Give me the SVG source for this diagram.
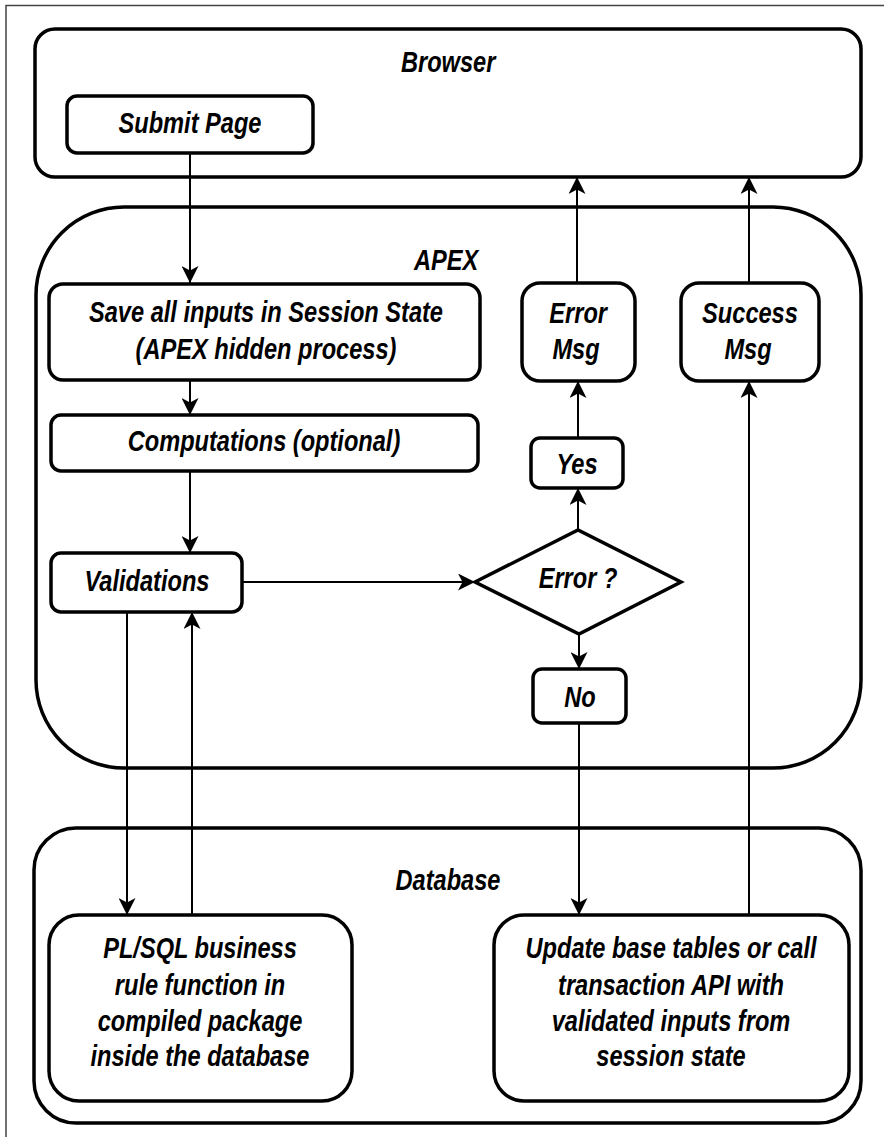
<svg xmlns="http://www.w3.org/2000/svg" width="884" height="1137" viewBox="0 0 884 1137">
  <style>
    .lane { fill: #ffffff; stroke: #000000; stroke-width: 3.5; }
    .box { fill: #ffffff; stroke: #000000; stroke-width: 3.5; }
    .edge { fill: none; stroke: #000000; stroke-width: 2; marker-end: url(#arrow); }
    .lbl { font-family: "Liberation Sans", Arial, sans-serif; font-weight: bold; font-style: italic; font-size: 29.5px; fill: #000000; text-anchor: middle;
           transform-box: fill-box; transform-origin: center; transform: scaleX(0.8); }
  </style>
  <defs>
    <marker id="arrow" viewBox="0 0 17 17" refX="17" refY="8.5" markerWidth="17" markerHeight="17" markerUnits="userSpaceOnUse" orient="auto">
      <path d="M0,0 L17,8.5 L0,17 L4.5,8.5 Z" fill="#000000"/>
    </marker>
  </defs>

  <rect width="884" height="1137" fill="#ffffff"/>
  <!-- page frame -->
  <path d="M6,1137 V5.5 H884" fill="none" stroke="#444444" stroke-width="1.5"/>

  <!-- swimlanes -->
  <g id="browser">
    <rect class="lane" x="35" y="29" width="826" height="148" rx="20"/>
    <text class="lbl" x="448" y="72">Browser</text>
  </g>
  <g id="apex">
    <rect class="lane" x="36" y="207" width="825" height="561" rx="88"/>
    <text class="lbl" x="446" y="270">APEX</text>
  </g>
  <g id="database">
    <rect class="lane" x="34" y="828" width="827" height="295" rx="42"/>
    <text class="lbl" x="448" y="890">Database</text>
  </g>

  <!-- nodes -->
  <g id="submit-page">
    <rect class="box" x="67" y="96" width="246" height="57" rx="10"/>
    <text class="lbl" x="190" y="133">Submit Page</text>
  </g>
  <g id="save-inputs">
    <rect class="box" x="49" y="284" width="431" height="96" rx="14"/>
    <text class="lbl" x="266" y="322">Save all inputs in Session State</text>
    <text class="lbl" x="266" y="359">(APEX hidden process)</text>
  </g>
  <g id="computations">
    <rect class="box" x="51" y="415" width="427" height="56" rx="10"/>
    <text class="lbl" x="264" y="451">Computations (optional)</text>
  </g>
  <g id="validations">
    <rect class="box" x="51" y="553" width="191" height="59" rx="10"/>
    <text class="lbl" x="147" y="591">Validations</text>
  </g>
  <g id="error-decision">
    <polygon class="box" points="475,582 578,530 681,582 579,634"/>
    <text class="lbl" x="578" y="588">Error ?</text>
  </g>
  <g id="yes">
    <rect class="box" x="531" y="438" width="92" height="50" rx="9"/>
    <text class="lbl" x="577" y="474">Yes</text>
  </g>
  <g id="no">
    <rect class="box" x="533" y="669" width="93" height="54" rx="9"/>
    <text class="lbl" x="580" y="707">No</text>
  </g>
  <g id="error-msg">
    <rect class="box" x="522" y="283" width="113" height="98" rx="18"/>
    <text class="lbl" x="578" y="323">Error</text>
    <text class="lbl" x="576" y="359">Msg</text>
  </g>
  <g id="success-msg">
    <rect class="box" x="681" y="283" width="138" height="98" rx="18"/>
    <text class="lbl" x="750" y="323">Success</text>
    <text class="lbl" x="748" y="359">Msg</text>
  </g>
  <g id="plsql-rule">
    <rect class="box" x="49" y="915" width="303" height="186" rx="30"/>
    <text class="lbl" x="200" y="958">PL/SQL business</text>
    <text class="lbl" x="200" y="995">rule function in</text>
    <text class="lbl" x="200" y="1031">compiled package</text>
    <text class="lbl" x="200" y="1066">inside the database</text>
  </g>
  <g id="update-tables">
    <rect class="box" x="494" y="915" width="355" height="186" rx="30"/>
    <text class="lbl" x="671" y="958">Update base tables or call</text>
    <text class="lbl" x="671" y="995">transaction API with</text>
    <text class="lbl" x="671" y="1031">validated inputs from</text>
    <text class="lbl" x="671" y="1066">session state</text>
  </g>

  <!-- connectors -->
  <g id="connectors">
    <path class="edge" d="M190,153 V283"/>
    <path class="edge" d="M190,380 V415"/>
    <path class="edge" d="M190,471 V553"/>
    <path class="edge" d="M242,582 H475"/>
    <path class="edge" d="M578,530 V488"/>
    <path class="edge" d="M578,438 V381"/>
    <path class="edge" d="M577,283 V177"/>
    <path class="edge" d="M579,634 V669"/>
    <path class="edge" d="M579,723 V915"/>
    <path class="edge" d="M749,915 V381"/>
    <path class="edge" d="M749,283 V177"/>
    <path class="edge" d="M127,612 V915"/>
    <path class="edge" d="M192,915 V612"/>
  </g>
</svg>
